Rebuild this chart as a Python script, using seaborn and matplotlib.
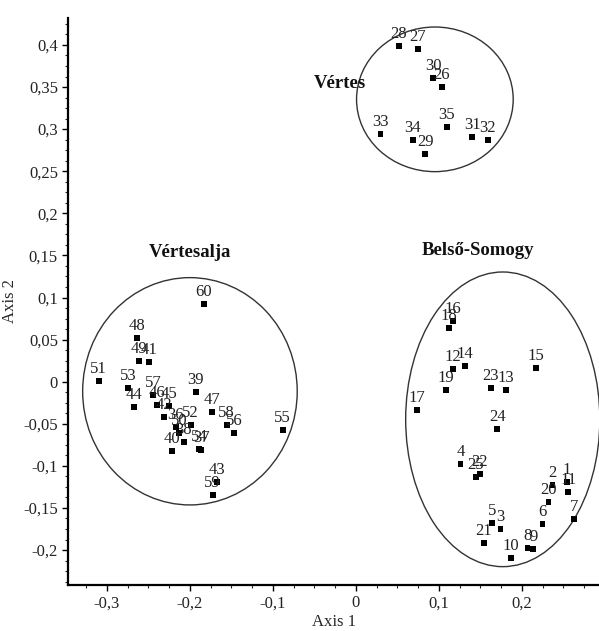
"""PCA-style ordination of sites with three grouped regions."""

import matplotlib

matplotlib.use("Agg")
import matplotlib.pyplot as plt
import pandas as pd
import seaborn as sns
from matplotlib.patches import Ellipse
from matplotlib.ticker import FuncFormatter, MultipleLocator

# site labels and their scores on the two axes
site_ids = [
    1, 2, 3, 4, 5, 6, 7, 8, 9, 10, 11, 12, 13, 14, 15, 16, 17, 18, 19, 20,
    21, 22, 23, 24, 25,
    26, 27, 28, 29, 30, 31, 32, 33, 34, 35,
    36, 37, 38, 39, 40, 41, 42, 43, 44, 45, 46, 47, 48, 49, 50, 51, 52, 53,
    54, 55, 56, 57, 58, 59, 60,
]
axis1 = [
    0.2546, 0.2369, 0.1743, 0.1261, 0.1639, 0.2249, 0.2627, 0.2068, 0.2137,
    0.1871, 0.2558, 0.1173, 0.1807, 0.1313, 0.2169, 0.1173, 0.0739, 0.1125,
    0.1084, 0.2321, 0.1542, 0.1494, 0.1627, 0.1703, 0.1446,
    0.1036, 0.0747, 0.0518, 0.0835, 0.0932, 0.1402, 0.1590, 0.0297, 0.0683,
    0.1096,
    -0.2169, -0.1864, -0.2072, -0.1928, -0.2217, -0.2494, -0.2313, -0.1679,
    -0.2670, -0.2257, -0.2401, -0.1735, -0.2635, -0.2610, -0.2129, -0.3100,
    -0.1992, -0.2747, -0.1888, -0.0883, -0.1470, -0.2442, -0.1558, -0.1727,
    -0.1831,
]
axis2 = [
    -0.1188, -0.1227, -0.1753, -0.0981, -0.1682, -0.1690, -0.1634, -0.1979,
    -0.1991, -0.2090, -0.1306, 0.0147, -0.0099, 0.0183, 0.0159, 0.0721,
    -0.0336, 0.0634, -0.0099, -0.1425, -0.1919, -0.1100, -0.0079, -0.0562,
    -0.1128,
    0.3496, 0.3951, 0.3990, 0.2704, 0.3610, 0.2903, 0.2871, 0.2942, 0.2871,
    0.3029,
    -0.0542, -0.0815, -0.0716, -0.0126, -0.0827, 0.0234, -0.0416, -0.1188,
    -0.0304, -0.0289, -0.0281, -0.0364, 0.0523, 0.0246, -0.0613, 0.0008,
    -0.0518, -0.0078, -0.0803, -0.0574, -0.0613, -0.0154, -0.0514, -0.1349,
    0.0923,
]

# group outlines: name, centre, width, height, title position
group_names = ["Vértes", "Vértesalja", "Belső-Somogy"]
group_centres = [(0.0952, 0.3354), (-0.2000, -0.0114), (0.1770, -0.0447)]
group_sizes = [(0.1888, 0.1718), (0.2586, 0.2700), (0.2340, 0.3500)]
title_pos = [(-0.019, 0.3547), (-0.200, 0.1530), (0.147, 0.1564)]

df = pd.DataFrame({"site": site_ids, "x": axis1, "y": axis2})

sns.set_style("ticks")
plt.rcParams["font.family"] = ["Liberation Serif", "DejaVu Serif"]
plt.rcParams["mathtext.fontset"] = "stix"

fig = plt.figure(figsize=(5.99, 6.31), dpi=100)
ax = fig.add_axes([68.3 / 599, 46 / 631, (599 - 68.3) / 599, (585 - 18) / 631])

sns.scatterplot(
    data=df, x="x", y="y", marker="s", s=18, color="black",
    edgecolor="none", linewidth=0, ax=ax, zorder=3,
)

for sid, xv, yv in zip(df["site"], df["x"], df["y"]):
    ax.annotate(
        str(sid), (xv, yv), xytext=(0, 12), textcoords="offset pixels",
        ha="center", va="center", fontsize=12, color="#222222",
    )

for name, c, size, tp in zip(group_names, group_centres, group_sizes, title_pos):
    ax.add_patch(Ellipse(c, size[0], size[1], fill=False,
                         edgecolor="#333333", linewidth=1.0))
    ax.text(tp[0], tp[1], name, ha="center", va="center",
            fontsize=13.5, fontweight="bold", color="#111111")

ax.set_xlim(-0.3466, 0.293)
ax.set_ylim(-0.2415, 0.432)

ax.xaxis.set_major_locator(MultipleLocator(0.1))
ax.xaxis.set_minor_locator(MultipleLocator(0.025))
ax.yaxis.set_major_locator(MultipleLocator(0.05))
ax.yaxis.set_minor_locator(MultipleLocator(0.0125))


def comma_fmt(v, pos):
    if abs(v) < 1e-9:
        return "0"
    return f"{v:g}".replace(".", ",")


ax.xaxis.set_major_formatter(FuncFormatter(comma_fmt))
ax.yaxis.set_major_formatter(FuncFormatter(comma_fmt))
ax.tick_params(which="major", length=4, width=1, labelsize=12, colors="black",
               labelcolor="#222222")
ax.tick_params(which="minor", length=2.5, width=0.8)

ax.set_xlabel("Axis 1", fontsize=12, labelpad=2)
ax.set_ylabel("Axis 2", fontsize=12, labelpad=4)

sns.despine(ax=ax)
for side in ["left", "bottom"]:
    ax.spines[side].set_linewidth(1.6)
    ax.spines[side].set_color("black")

fig.savefig("out.png", dpi=100)
